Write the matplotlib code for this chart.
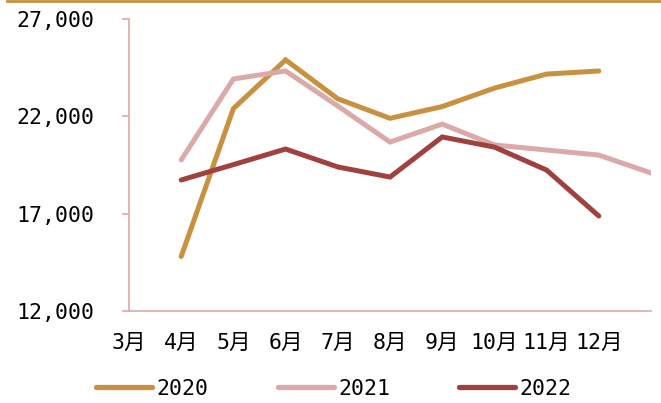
import numpy as np
import matplotlib
matplotlib.use('Agg')
import matplotlib.pyplot as plt
from matplotlib.lines import Line2D

plt.rcParams['font.family'] = ['DejaVu Sans Mono', 'Noto Sans CJK SC']

# month labels (last position has no label)
months = ['3月', '4月', '5月', '6月', '7月', '8月', '9月', '10月', '11月', '12月']

# values, positions 4月..12月 (2021 runs one step further)
s2020 = [14800, 22400, 24900, 22900, 21900, 22500, 23450, 24170, 24330]
s2021 = [19760, 23920, 24330, 22530, 20680, 21600, 20530, 20270, 20010, 19090]
s2022 = [18730, 19520, 20320, 19400, 18880, 20940, 20420, 19240, 16880]

gold = '#C8913F'
pink = '#DBA9A9'
red = '#A0403F'

fig = plt.figure(figsize=(6.61, 4.03), dpi=100)
ax = fig.add_axes([129/661, 1 - 311/403, (651 - 129)/661, (311 - 19)/403])

x2020 = np.arange(1, 1 + len(s2020))
x2021 = np.arange(1, 1 + len(s2021))
x2022 = np.arange(1, 1 + len(s2022))

ax.plot(x2020, s2020, color=gold, lw=3.6, solid_capstyle='round', solid_joinstyle='miter', label='2020')
ax.plot(x2021, s2021, color=pink, lw=3.6, solid_capstyle='round', solid_joinstyle='miter', label='2021')
ax.plot(x2022, s2022, color=red, lw=3.6, solid_capstyle='round', solid_joinstyle='miter', label='2022')

ax.set_xlim(0, 10)
ax.set_ylim(12000, 27000)
ax.set_xticks(range(len(months)))
ax.set_xticklabels(months)
ax.set_yticks([12000, 17000, 22000, 27000])
ax.yaxis.set_major_formatter(matplotlib.ticker.FuncFormatter(lambda v, p: '{:,.0f}'.format(v)))

for s in ['top', 'right']:
    ax.spines[s].set_visible(False)
for s in ['left', 'bottom']:
    ax.spines[s].set_color(pink)
    ax.spines[s].set_linewidth(1.2)

ax.tick_params(axis='y', length=5, width=1.2, color=pink, pad=20, labelsize=15.5)
ax.tick_params(axis='x', length=0, pad=16, labelsize=15.5)

leg = fig.legend(loc='center', bbox_to_anchor=(0.505, 1 - 389/403), ncol=3, frameon=False,
                 fontsize=15.5, handlelength=2.6, handletextpad=0.2, columnspacing=3.2)
for h in leg.legend_handles:
    h.set_linewidth(3.8)
    h.set_solid_capstyle('round')

# gold rule along the top edge
fig.add_artist(Line2D([7/661, 1], [1 - 1/403, 1 - 1/403], color=gold, lw=2, transform=fig.transFigure))

plt.savefig('out.png', dpi=100)
